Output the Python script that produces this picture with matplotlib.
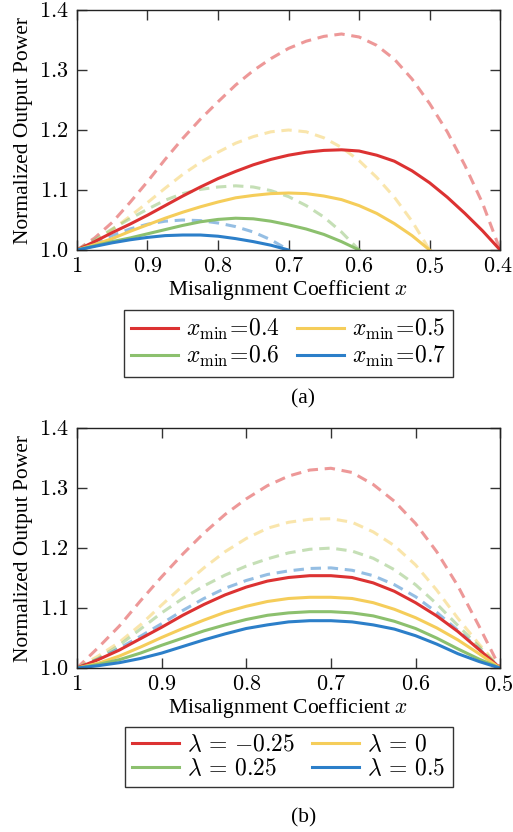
import numpy as np
import matplotlib
matplotlib.use("Agg")
import matplotlib.pyplot as plt
import matplotlib.transforms as mtransforms

plt.rcParams["font.family"] = ["Liberation Serif", "DejaVu Serif"]
plt.rcParams["mathtext.fontset"] = "cm"

# ---- panel (a): curves for different x_min ----
X_A = [1.000, 0.975, 0.950, 0.925, 0.900, 0.875, 0.850, 0.825, 0.800, 0.775,
       0.750, 0.725, 0.700, 0.675, 0.650, 0.625, 0.600, 0.575, 0.550, 0.525,
       0.500, 0.475, 0.450, 0.425, 0.400]
LABELS_A = ["0.4", "0.5", "0.6", "0.7"]

SOLID_A_04 = [1.000, 1.014, 1.029, 1.043, 1.058, 1.074, 1.090, 1.105, 1.119, 1.131,
              1.142, 1.151, 1.158, 1.163, 1.166, 1.167, 1.165, 1.158, 1.148, 1.132,
              1.112, 1.088, 1.061, 1.032, 1.000]
SOLID_A_05 = [1.000, 1.009, 1.019, 1.031, 1.042, 1.053, 1.063, 1.072, 1.080, 1.087,
              1.091, 1.094, 1.095, 1.094, 1.090, 1.084, 1.074, 1.061, 1.044, 1.024,
              1.000]
SOLID_A_06 = [1.000, 1.007, 1.014, 1.020, 1.027, 1.034, 1.041, 1.047, 1.051, 1.053,
              1.052, 1.048, 1.042, 1.035, 1.026, 1.014, 1.000]
SOLID_A_07 = [1.000, 1.006, 1.012, 1.017, 1.021, 1.024, 1.025, 1.025, 1.023, 1.019,
              1.014, 1.008, 1.000]

DASH_A_04 = [1.000, 1.020, 1.046, 1.079, 1.114, 1.151, 1.186, 1.218, 1.247, 1.275,
             1.299, 1.319, 1.336, 1.348, 1.356, 1.360, 1.355, 1.341, 1.318, 1.285,
             1.244, 1.197, 1.141, 1.078, 1.000]
DASH_A_05 = [1.000, 1.014, 1.034, 1.056, 1.079, 1.103, 1.126, 1.146, 1.163, 1.178,
             1.189, 1.197, 1.200, 1.197, 1.187, 1.171, 1.149, 1.121, 1.088, 1.048,
             1.000]
DASH_A_06 = [1.000, 1.017, 1.035, 1.052, 1.068, 1.083, 1.094, 1.101, 1.105, 1.107,
             1.105, 1.099, 1.089, 1.074, 1.055, 1.030, 1.000]
DASH_A_07 = [1.000, 1.012, 1.024, 1.035, 1.043, 1.048, 1.050, 1.049, 1.045, 1.039,
             1.030, 1.017, 1.000]

# ---- panel (b): curves for different lambda ----
X_B = [1.000, 0.975, 0.950, 0.925, 0.900, 0.875, 0.850, 0.825, 0.800, 0.775,
       0.750, 0.725, 0.700, 0.675, 0.650, 0.625, 0.600, 0.575, 0.550, 0.525,
       0.500]
LABELS_B = ["-0.25", "0", "0.25", "0.5"]

SOLID_B_M025 = [1.000, 1.014, 1.030, 1.049, 1.068, 1.088, 1.106, 1.122, 1.135, 1.145,
                1.151, 1.154, 1.154, 1.151, 1.142, 1.128, 1.109, 1.087, 1.061, 1.031,
                1.000]
SOLID_B_0 = [1.000, 1.008, 1.020, 1.035, 1.051, 1.066, 1.080, 1.093, 1.103, 1.111,
             1.116, 1.118, 1.118, 1.116, 1.109, 1.098, 1.084, 1.067, 1.047, 1.024,
             1.000]
SOLID_B_025 = [1.000, 1.006, 1.014, 1.025, 1.038, 1.050, 1.062, 1.072, 1.081, 1.088,
               1.092, 1.094, 1.094, 1.092, 1.087, 1.078, 1.066, 1.050, 1.032, 1.015,
               1.000]
SOLID_B_05 = [1.000, 1.004, 1.009, 1.016, 1.025, 1.036, 1.047, 1.057, 1.066, 1.072,
              1.077, 1.079, 1.079, 1.077, 1.072, 1.065, 1.054, 1.040, 1.024, 1.011,
              1.000]

DASH_B_M025 = [1.000, 1.034, 1.070, 1.112, 1.152, 1.190, 1.225, 1.256, 1.282, 1.304,
               1.320, 1.330, 1.333, 1.326, 1.306, 1.278, 1.241, 1.194, 1.137, 1.070,
               1.000]
DASH_B_0 = [1.000, 1.020, 1.043, 1.072, 1.105, 1.137, 1.167, 1.194, 1.216, 1.233,
            1.243, 1.248, 1.249, 1.243, 1.227, 1.204, 1.172, 1.130, 1.083, 1.040,
            1.000]
DASH_B_025 = [1.000, 1.016, 1.038, 1.065, 1.092, 1.116, 1.137, 1.155, 1.170, 1.182,
              1.192, 1.198, 1.200, 1.195, 1.183, 1.164, 1.139, 1.107, 1.071, 1.036,
              1.000]
DASH_B_05 = [1.000, 1.015, 1.033, 1.053, 1.074, 1.096, 1.116, 1.133, 1.146, 1.156,
             1.162, 1.166, 1.167, 1.163, 1.154, 1.139, 1.119, 1.093, 1.063, 1.032,
             1.000]

Y_TICKS = [1.0, 1.1, 1.2, 1.3, 1.4]
X_TICKS_A = [1, 0.9, 0.8, 0.7, 0.6, 0.5, 0.4]
X_TICKS_B = [1, 0.9, 0.8, 0.7, 0.6, 0.5]

COLORS = ["#dc3232", "#f5cd5a", "#8cc06e", "#2c7fc9"]
FS = 15.5
TICK_FS = 16
LEG_FS = 17


def style_axes(fig, ax, xticks, xlim):
    ax.set_xlim(*xlim)
    ax.set_ylim(1.0, 1.4)
    ax.set_xticks(xticks, labels=[f"${v:g}$" for v in xticks])
    ax.set_yticks(Y_TICKS, labels=[f"${v:.1f}$" for v in Y_TICKS])
    ax.tick_params(direction="in", length=7, width=1, top=True, right=True,
                   labelsize=TICK_FS, color="#333333", pad=6)
    for sp in ax.spines.values():
        sp.set_color("#222222")
        sp.set_linewidth(1.0)
    ax.set_xlabel("Misalignment Coefficient $x$", fontsize=FS, labelpad=0)
    ax.set_ylabel("Normalized Output Power", fontsize=FS, labelpad=4)
    # nudge the right-most tick label so it stays inside the canvas
    last = ax.get_xticklabels()[-1]
    shift = mtransforms.ScaledTranslation(-2 / 100, 0, fig.dpi_scale_trans)
    last.set_transform(last.get_transform() + shift)


def draw(ax, xs, solids, dashes, labels):
    for ys, c in zip(dashes, COLORS):
        ax.plot(xs[:len(ys)], ys, color=c, lw=2.2, ls=(0, (3.4, 2.2)),
                alpha=0.5, dash_capstyle="butt")
    lines = []
    for ys, c, lab in zip(solids, COLORS, labels):
        lines += ax.plot(xs[:len(ys)], ys, color=c, lw=2.2, label=lab)
    return lines


fig = plt.figure(figsize=(5.13, 8.32), dpi=100)
ax_a = fig.add_axes([0.150, 0.6995, 0.825, 0.2885])
ax_b = fig.add_axes([0.150, 0.197, 0.825, 0.2885])

lines_a = draw(ax_a, X_A, [SOLID_A_04, SOLID_A_05, SOLID_A_06, SOLID_A_07],
               [DASH_A_04, DASH_A_05, DASH_A_06, DASH_A_07],
               [r"$x_{\mathrm{min}}\!=\!" + v + "$" for v in LABELS_A])
style_axes(fig, ax_a, X_TICKS_A, (1.0, 0.4))

lines_b = draw(ax_b, X_B, [SOLID_B_M025, SOLID_B_0, SOLID_B_025, SOLID_B_05],
               [DASH_B_M025, DASH_B_0, DASH_B_025, DASH_B_05],
               [r"$\lambda\,=\,{" + v + "}$" for v in LABELS_B])
style_axes(fig, ax_b, X_TICKS_B, (1.0, 0.5))

# legend is filled row by row in the original
order = [0, 2, 1, 3]
for ax, lines, top in [(ax_a, lines_a, 0.6274), (ax_b, lines_b, 0.1262)]:
    hs = [lines[i] for i in order]
    leg = ax.legend(hs, [h.get_label() for h in hs], loc="upper center",
                    bbox_to_anchor=(0.5625, top),
                    bbox_transform=fig.transFigure, ncol=2, fontsize=LEG_FS,
                    frameon=True, fancybox=False, edgecolor="black",
                    handlelength=2.0, handletextpad=0.35, columnspacing=0.7,
                    borderpad=0.3, labelspacing=0.1, borderaxespad=0)
    leg.get_frame().set_linewidth(1.0)

fig.text(0.591, 1 - 399 / 832, "(a)", ha="center", va="center", fontsize=FS)
fig.text(0.591, 1 - 818 / 832, "(b)", ha="center", va="center", fontsize=FS)

fig.savefig("out.png", dpi=100)
